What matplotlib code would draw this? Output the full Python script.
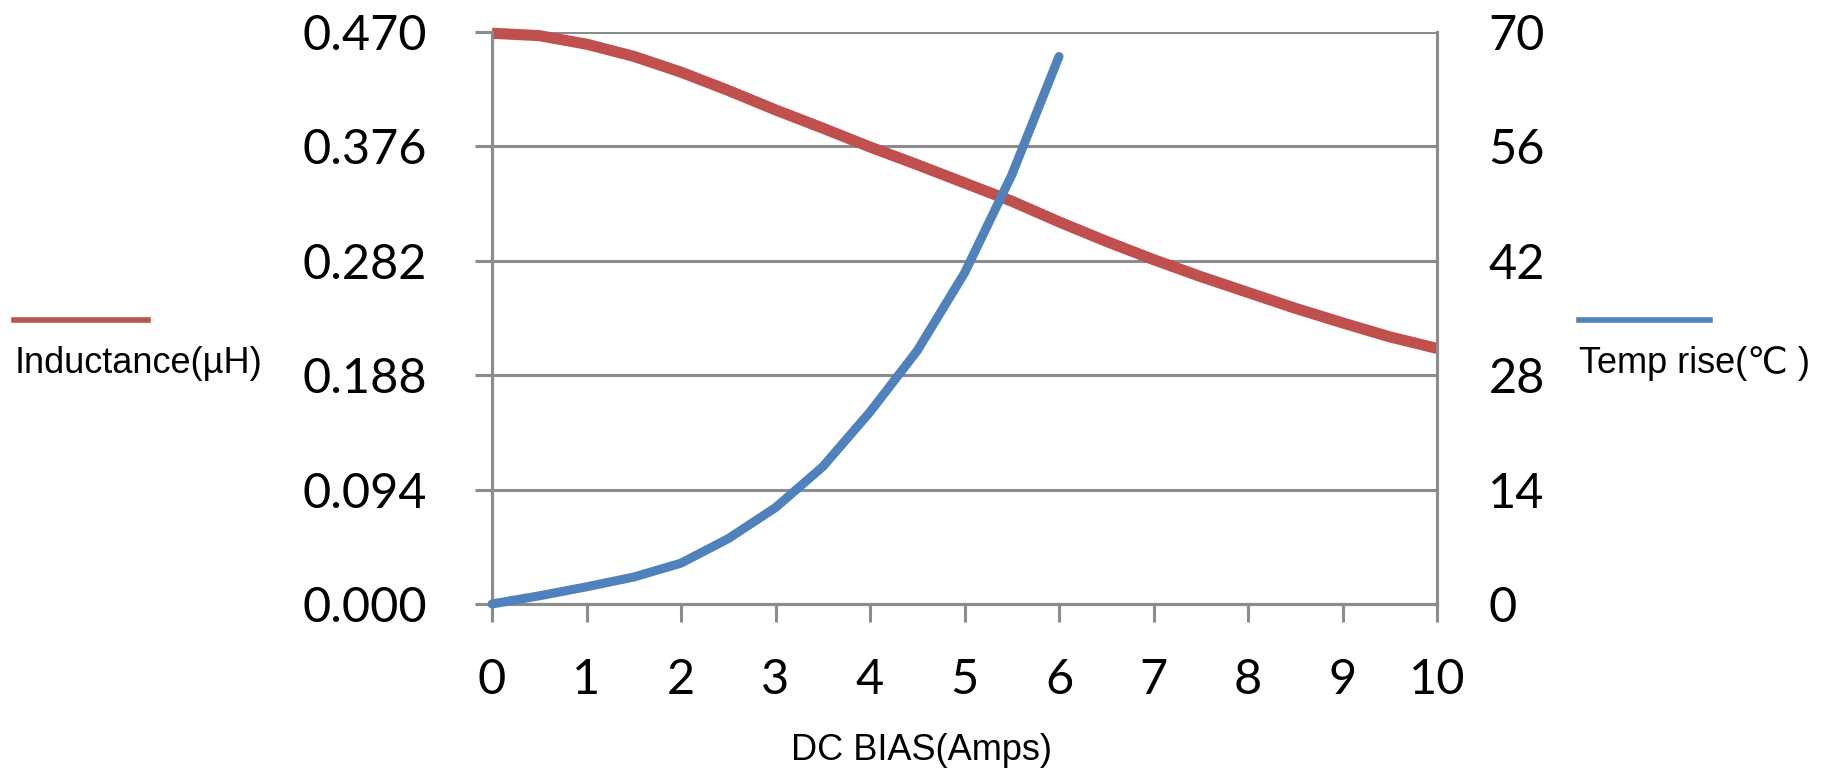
import matplotlib
matplotlib.use("Agg")
import matplotlib.pyplot as plt

# ---- data ----
bias_L = [0, 0.5, 1, 1.5, 2, 2.5, 3, 3.5, 4, 4.5, 5, 5.5, 6, 6.5, 7, 7.5, 8, 8.5, 9, 9.5, 10]
inductance = [0.469, 0.467, 0.460, 0.450, 0.437, 0.422, 0.406, 0.391, 0.3755, 0.361,
              0.346, 0.331, 0.314, 0.298, 0.283, 0.269, 0.256, 0.243, 0.231, 0.2195, 0.210]
bias_T = [0, 0.5, 1, 1.5, 2, 2.5, 3, 3.5, 4, 4.5, 5, 5.5, 6]
temp_rise = [0, 1.0, 2.1, 3.3, 5.0, 8.0, 11.8, 16.8, 23.5, 31.0, 40.5, 52.5, 67.0]
left_ticks = [0.000, 0.094, 0.188, 0.282, 0.376, 0.470]
right_ticks = [0, 14, 28, 42, 56, 70]
x_ticks = [0, 1, 2, 3, 4, 5, 6, 7, 8, 9, 10]

RED = "#C0504D"
BLUE = "#4F81BD"
GRID = "#8C8C8C"
tick_font = ["Lato", "DejaVu Sans"]
text_font = ["Liberation Sans", "DejaVu Sans"]

fig = plt.figure(figsize=(18.25, 7.73), dpi=100)
ax = fig.add_axes([492/1825, 1-604/773, (1437-492)/1825, (604-32)/773])
ax2 = ax.twinx()

ax.set_xlim(0, 10)
ax.set_ylim(0, 0.470)
ax2.set_ylim(0, 70)

ax.set_yticks(left_ticks)
ax.set_yticklabels([f"{v:.3f}" for v in left_ticks], fontfamily=tick_font, fontsize=35)
ax2.set_yticks(right_ticks)
ax2.set_yticklabels([str(v) for v in right_ticks], fontfamily=tick_font, fontsize=35)
ax.set_xticks(x_ticks)
ax.set_xticklabels([str(v) for v in x_ticks], fontfamily=tick_font, fontsize=35)

ax.grid(axis="y", color=GRID, linewidth=2.2)
ax.set_axisbelow(True)
for a in (ax, ax2):
    for s in a.spines.values():
        s.set_color(GRID)
        s.set_linewidth(2.2)
    a.spines["top"].set_visible(False)

ax.tick_params(axis="y", length=12, width=2.2, color=GRID, pad=35)
ax.tick_params(axis="x", length=13, width=2.2, color=GRID, pad=26)
ax2.tick_params(axis="y", length=0, pad=37)

ax.plot(bias_L, inductance, color=RED, linewidth=8, solid_capstyle="butt",
        solid_joinstyle="round", clip_on=False, zorder=3)
ax2.plot(bias_T, temp_rise, color=BLUE, linewidth=6.5, solid_capstyle="round",
         solid_joinstyle="round", clip_on=False, zorder=3)

# legend-like labels
fig.add_artist(plt.Line2D([14/1825, 148/1825], [1-320/773, 1-320/773], color=RED, linewidth=4))
fig.text(15/1825, 1-363/773, "Inductance(µH)", fontfamily=text_font, fontsize=26, va="center", ha="left")
fig.add_artist(plt.Line2D([1579/1825, 1710/1825], [1-320/773, 1-320/773], color=BLUE, linewidth=4))
fig.text(1579/1825, 1-363/773, "Temp rise(℃ )", fontfamily=text_font, fontsize=26, va="center", ha="left")

fig.text(922/1825, 1-750/773, "DC BIAS(Amps)", fontfamily=text_font, fontsize=26, va="center", ha="center")

fig.savefig("out.png", dpi=100)
